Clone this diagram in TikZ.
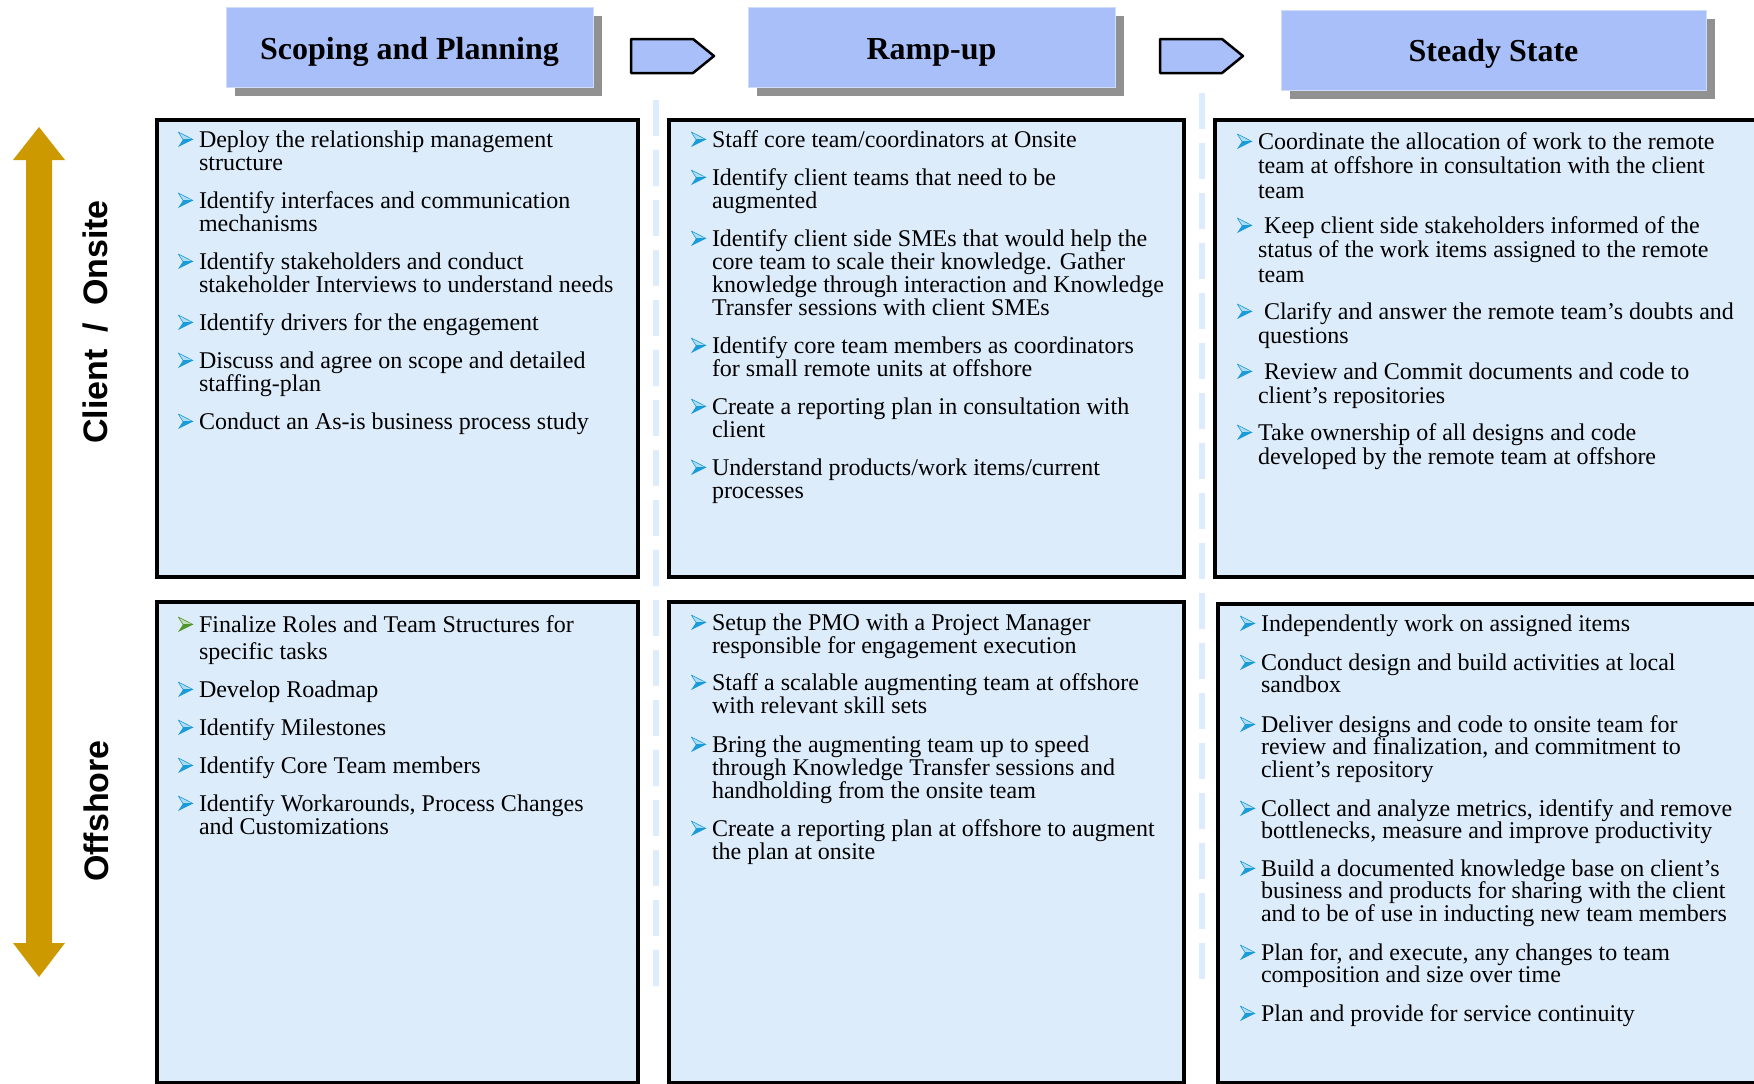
\documentclass[tikz,border=0pt]{standalone}
\usepackage{fontspec}
\setmainfont{Liberation Serif}
\newfontfamily\labelfont{Liberation Sans}
\definecolor{boxfill}{RGB}{221,236,251}
\definecolor{hdrfill}{RGB}{169,191,250}
\definecolor{shadowgray}{RGB}{145,145,145}
\definecolor{gold}{RGB}{204,153,0}
\definecolor{sepblue}{RGB}{221,236,251}
\definecolor{bulblue}{RGB}{27,155,215}
\definecolor{bulgreen}{RGB}{80,150,45}
\tikzset{
  pics/bul/.style={code={
    \filldraw[draw=#1, fill=#1!35!white, line width=0.6pt, line join=round] (0.3,-15) -- (15,-7.5) -- (5,-7.5) -- cycle;
    \fill[#1] (0,0) -- (15,-7.5) -- (5,-7.5) -- cycle;
  }},
  pics/bul/.default=bulblue,
  itemtxt/.style={inner sep=0pt, outer sep=0pt},
  bigbox/.style={draw=black, line width=4pt, fill=boxfill, inner sep=0pt, outer sep=0pt, anchor=north west},
  hdrbox/.style={fill=hdrfill, draw=hdrfill!55!white, line width=1pt, inner sep=0pt, minimum height=80pt},
  hdrshadow/.style={fill=shadowgray, inner sep=0pt, minimum height=80pt},
  hdrtxt/.style={inner sep=0pt, font=\fontsize{32}{36}\selectfont\bfseries},
  sidelbl/.style={inner sep=0pt, font=\labelfont\fontsize{34}{38}\selectfont\bfseries},
  chevron/.style={fill=hdrfill, draw=black, line width=2.5pt, line join=round},
  sepline/.style={draw=sepblue, line width=6pt, dash pattern=on 36pt off 14pt},
  goldarrow/.style={fill=gold},
}
\newcommand\bitem[6][bulblue]{%
  \node[itemtxt, anchor=base west] (#2) at (#3,#4) {\parbox[t]{600pt}{\fontsize{24}{#5}\selectfont\raggedright #6}};
  \pic at ([xshift=-21pt]#2.base west) {bul=#1};
}
\begin{document}
\begin{tikzpicture}[x=1pt,y=-1pt]
\useasboundingbox (0,0) rectangle (1754,1084);
\clip (0,0) rectangle (1754,1084);

% separators
\coordinate (s1a) at (656,100); \coordinate (s1b) at (656,992);
\coordinate (s2a) at (1202,93); \coordinate (s2b) at (1202,988);
\draw[sepline] (s1a) -- (s1b);
\draw[sepline] (s2a) -- (s2b);

% headers
\node[hdrshadow, minimum width=367pt] (h1s) at (418.5,56) {};
\node[hdrbox, minimum width=367pt] (h1) at (409.5,47) {};
\node[hdrtxt, anchor=base] (h1t) at (409.5,59) {Scoping and Planning};
\node[hdrshadow, minimum width=367pt] (h2s) at (940.5,56) {};
\node[hdrbox, minimum width=367pt] (h2) at (931.5,47) {};
\node[hdrtxt, anchor=base] (h2t) at (931.5,59) {Ramp-up};
\node[hdrshadow, minimum width=425pt] (h3s) at (1502.5,59) {};
\node[hdrbox, minimum width=425pt] (h3) at (1493.5,50) {};
\node[hdrtxt, anchor=base] (h3t) at (1493.5,61) {Steady State};

% chevrons
\draw[chevron] (631,39) -- (693,39) -- (714,56) -- (693,73) -- (631,73) -- cycle;
\draw[chevron] (1160,39) -- (1222,39) -- (1243,56) -- (1222,73) -- (1160,73) -- cycle;

% gold double arrow
\fill[goldarrow] (39,127) -- (65,160) -- (52,160) -- (52,943) -- (65,943) -- (39,977) -- (13,943) -- (26,943) -- (26,160) -- (13,160) -- cycle;
\node[sidelbl, rotate=90, anchor=base] (lblc) at (107,322) {Client\hspace{0.5em}/\hspace{0.5em}Onsite};
\node[sidelbl, rotate=90, anchor=base] (lblo) at (108,811) {Offshore};

% boxes
\node[bigbox, minimum width=481pt, minimum height=457pt] (A1) at (157,120) {};
\node[bigbox, minimum width=515pt, minimum height=457pt] (B1) at (669,120) {};
\node[bigbox, minimum width=565pt, minimum height=457pt] (C1) at (1215,120) {};
\node[bigbox, minimum width=481pt, minimum height=481pt] (A2) at (157,602) {};
\node[bigbox, minimum width=515pt, minimum height=481pt] (B2) at (669,602) {};
\node[bigbox, minimum width=562pt, minimum height=479pt] (C2) at (1218,604) {};

% A1
\bitem{a1i1}{199}{147}{23}{Deploy the relationship management\\structure}
\bitem{a1i2}{199}{208}{23}{Identify interfaces and communication\\mechanisms}
\bitem{a1i3}{199}{269}{23}{Identify stakeholders and conduct\\stakeholder Interviews to understand needs}
\bitem{a1i4}{199}{330}{23}{Identify drivers for the engagement}
\bitem{a1i5}{199}{368}{23}{Discuss and agree on scope and detailed\\staffing-plan}
\bitem{a1i6}{199}{429}{23}{Conduct an As-is business process study}

% A2
\bitem[bulgreen]{a2i1}{199}{632}{27}{Finalize Roles and Team Structures for\\specific tasks}
\bitem{a2i2}{199}{697}{23}{Develop Roadmap}
\bitem{a2i3}{199}{735}{23}{Identify Milestones}
\bitem{a2i4}{199}{773}{23}{Identify Core Team members}
\bitem{a2i5}{199}{811}{23}{Identify Workarounds, Process Changes\\and Customizations}

% B1
\bitem{b1i1}{712}{147}{23}{Staff core team/coordinators at Onsite}
\bitem{b1i2}{712}{185}{23}{Identify client teams that need to be\\augmented}
\bitem{b1i3}{712}{246}{23}{Identify client side SMEs that would help the\\core team to scale their knowledge. Gather\\knowledge through interaction and Knowledge\\Transfer sessions with client SMEs}
\bitem{b1i4}{712}{353}{23}{Identify core team members as coordinators\\for small remote units at offshore}
\bitem{b1i5}{712}{414}{23}{Create a reporting plan in consultation with\\client}
\bitem{b1i6}{712}{475}{23}{Understand products/work items/current\\processes}

% B2
\bitem{b2i1}{712}{630}{23}{Setup the PMO with a Project Manager\\responsible for engagement execution}
\bitem{b2i2}{712}{690}{23}{Staff a scalable augmenting team at offshore\\with relevant skill sets}
\bitem{b2i3}{712}{752}{23}{Bring the augmenting team up to speed\\through Knowledge Transfer sessions and\\handholding from the onsite team}
\bitem{b2i4}{712}{836}{23}{Create a reporting plan at offshore to augment\\the plan at onsite}

% C1
\bitem{c1i1}{1258}{149}{24.5}{Coordinate the allocation of work to the remote\\team at offshore in consultation with the client\\team}
\bitem{c1i2}{1258}{233}{24.5}{\hspace*{.25em}Keep client side stakeholders informed of the\\status of the work items assigned to the remote\\team}
\bitem{c1i3}{1258}{319}{24.5}{\hspace*{.25em}Clarify and answer the remote team’s doubts and\\questions}
\bitem{c1i4}{1258}{379}{24.5}{\hspace*{.25em}Review and Commit documents and code to\\client’s repositories}
\bitem{c1i5}{1258}{440}{24.5}{Take ownership of all designs and code\\developed by the remote team at offshore}

% C2
\bitem{c2i1}{1261}{631}{22.5}{Independently work on assigned items}
\bitem{c2i2}{1261}{670}{22.5}{Conduct design and build activities at local\\sandbox}
\bitem{c2i3}{1261}{732}{22.5}{Deliver designs and code to onsite team for\\review and finalization, and commitment to\\client’s repository}
\bitem{c2i4}{1261}{816}{22.5}{Collect and analyze metrics, identify and remove\\bottlenecks, measure and improve productivity}
\bitem{c2i5}{1261}{876}{22.5}{Build a documented knowledge base on client’s\\business and products for sharing with the client\\and to be of use in inducting new team members}
\bitem{c2i6}{1261}{960}{22.5}{Plan for, and execute, any changes to team\\composition and size over time}
\bitem{c2i7}{1261}{1021}{22.5}{Plan and provide for service continuity}
\end{tikzpicture}
\end{document}
